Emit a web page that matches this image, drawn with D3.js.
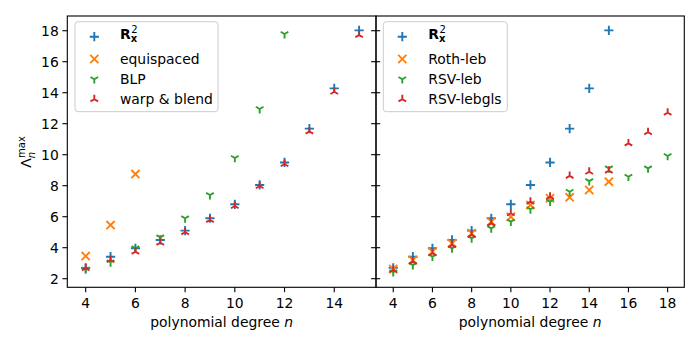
<!DOCTYPE html>
<meta charset="utf-8">
<style>
  body { margin: 0; background: #fff; }
  text { font-family: "DejaVu Sans", sans-serif; font-size: 13.9px; fill: #000; }
</style>
<svg width="700" height="350"></svg>
<script src="https://d3js.org/d3.v7.min.js"></script>
<script>

// degrees for each series
var degLeft  = d3.range(4, 16),   // 4..15
    degEqui  = [4, 5, 6],
    degBLP   = d3.range(4, 13),   // 4..12
    degRoth  = d3.range(4, 16),
    degRSV   = d3.range(4, 19);   // 4..18

// left panel values
var rx2      = [2.7, 3.42, 3.96, 4.5, 5.1, 5.9, 6.8, 8.05, 9.5, 11.68, 14.28, 18.02],
    equi     = [3.46, 5.46, 8.75],
    blp      = [2.6, 3.06, 3.96, 4.67, 5.9, 7.4, 9.79, 12.95, 17.79],
    warp     = [2.68, 3.2, 3.74, 4.32, 5.0, 5.79, 6.69, 7.98, 9.4, 11.5, 14.06, 17.72];

// right panel values
var rothLeb  = [2.62, 3.2, 3.74, 4.28, 4.93, 5.68, 6.0, 6.75, 7.19, 7.25, 7.72, 8.26],
    rsvLeb   = [2.42, 2.88, 3.42, 3.96, 4.6, 5.25, 5.68, 6.48, 6.97, 7.61, 8.3, 9.12, 8.58, 9.12, 9.92],
    rsvGls   = [2.56, 3.1, 3.64, 4.17, 4.82, 5.57, 6.22, 6.97, 7.29, 8.63, 8.9, 8.97, 10.73, 11.45, 12.71];

var yTicks      = [2, 4, 6, 8, 10, 12, 14, 16, 18],
    xTicksLeft  = [4, 6, 8, 10, 12, 14],
    xTicksRight = [4, 6, 8, 10, 12, 14, 16, 18];

var blue = "#1f77b4", orange = "#ff7f0e", green = "#2ca02c", red = "#d62728";

var svg = d3.select("svg");

var yTop = 16, yBottom = 287.3;

var y = d3.scaleLinear()
    .domain([1.445, 18.95])
    .range([yBottom, yTop]);

var panels = [
  {
    x0: 67.3, x1: 376, domain: [3.26, 15.68], ticks: xTicksLeft, yLabels: true,
    series: [
      {name: "rx", marker: "plus", color: blue, n: degLeft, v: rx2},
      {name: "equispaced", marker: "x", color: orange, n: degEqui, v: equi},
      {name: "BLP", marker: "tridown", color: green, n: degBLP, v: blp},
      {name: "warp & blend", marker: "triup", color: red, n: degLeft, v: warp}
    ],
    legend: {x0: 75, x1: 218, mx: 94.3, tx: 120}
  },
  {
    x0: 376, x1: 684.3, domain: [3.12, 18.85], ticks: xTicksRight, yLabels: false,
    series: [
      {name: "rx", marker: "plus", color: blue, n: degLeft, v: rx2},
      {name: "Roth-leb", marker: "x", color: orange, n: degRoth, v: rothLeb},
      {name: "RSV-leb", marker: "tridown", color: green, n: degRSV, v: rsvLeb},
      {name: "RSV-lebgls", marker: "triup", color: red, n: degRSV, v: rsvGls}
    ],
    legend: {x0: 383.3, x1: 507.3, mx: 402.3, tx: 428.3}
  }
];

function markerPath(type) {
  var p = d3.path(), r;
  if (type == "plus") {
    r = 4.6;
    p.moveTo(-r, 0); p.lineTo(r, 0);
    p.moveTo(0, -r); p.lineTo(0, r);
  } else if (type == "x") {
    r = 4.1;
    p.moveTo(-r, -r); p.lineTo(r, r);
    p.moveTo(-r, r); p.lineTo(r, -r);
  } else {
    r = 4.4;
    var s = type == "tridown" ? 1 : -1;
    p.moveTo(0, 0); p.lineTo(0, s * r);
    p.moveTo(0, 0); p.lineTo(-0.866 * r, -s * 0.5 * r);
    p.moveTo(0, 0); p.lineTo(0.866 * r, -s * 0.5 * r);
  }
  return p.toString();
}

function rxLabel(sel) {
  sel.append("tspan").attr("font-weight", "bold").text("R");
  sel.append("tspan").attr("font-weight", "bold").attr("dy", 3.5).attr("font-size", "10px").text("x");
  sel.append("tspan").attr("dx", -6).attr("dy", -9).attr("font-size", "10px").text("2");
}

panels.forEach(function(pl) {
  var x = d3.scaleLinear().domain(pl.domain).range([pl.x0, pl.x1]);
  var g = svg.append("g");

  // points
  pl.series.forEach(function(s) {
    var d = markerPath(s.marker);
    g.append("g").selectAll("path")
      .data(s.v)
      .join("path")
        .attr("transform", function(v, i) { return "translate(" + x(s.n[i]) + "," + y(v) + ")"; })
        .attr("d", d)
        .attr("fill", "none")
        .attr("stroke", s.color)
        .attr("stroke-width", 1.9);
  });

  // x axis
  var xa = g.append("g").attr("transform", "translate(0," + yBottom + ")");
  pl.ticks.forEach(function(t) {
    xa.append("line").attr("x1", x(t)).attr("x2", x(t)).attr("y1", 0).attr("y2", 4.9)
      .attr("stroke", "#000").attr("stroke-width", 1.1);
    xa.append("text").attr("x", x(t)).attr("y", 20.5).attr("text-anchor", "middle").text(t);
  });
  var xl = g.append("text")
      .attr("x", (pl.x0 + pl.x1) / 2)
      .attr("y", 327)
      .attr("text-anchor", "middle");
  xl.append("tspan").text("polynomial degree ");
  xl.append("tspan").attr("font-style", "italic").text("n");

  // y ticks
  yTicks.forEach(function(t) {
    g.append("line").attr("x1", pl.x0 - 4.9).attr("x2", pl.x0).attr("y1", y(t)).attr("y2", y(t))
      .attr("stroke", "#000").attr("stroke-width", 1.1);
    if (pl.yLabels) {
      g.append("text").attr("x", pl.x0 - 8.5).attr("y", y(t)).attr("dy", "0.36em")
        .attr("text-anchor", "end").text(t);
    } else {
      g.append("line").attr("x1", pl.x0).attr("x2", pl.x0 + 4.2).attr("y1", y(t)).attr("y2", y(t))
        .attr("stroke", "#000").attr("stroke-width", 1.1);
    }
  });

  // frame
  g.append("rect")
    .attr("x", pl.x0).attr("y", yTop)
    .attr("width", pl.x1 - pl.x0).attr("height", yBottom - yTop)
    .attr("fill", "none").attr("stroke", "#000").attr("stroke-width", 1.1);

  // legend
  var L = pl.legend, rows = [36.7, 59, 79.2, 99.2];
  var lg = g.append("g");
  lg.append("rect")
    .attr("x", L.x0).attr("y", 21.7)
    .attr("width", L.x1 - L.x0).attr("height", 90)
    .attr("rx", 3).attr("ry", 3)
    .attr("fill", "#fff").attr("fill-opacity", 0.8)
    .attr("stroke", "#cccccc").attr("stroke-width", 1);
  pl.series.forEach(function(s, i) {
    lg.append("path")
      .attr("transform", "translate(" + L.mx + "," + rows[i] + ")")
      .attr("d", markerPath(s.marker))
      .attr("fill", "none").attr("stroke", s.color).attr("stroke-width", 1.9);
    var t = lg.append("text").attr("x", L.tx).attr("y", rows[i] + (i == 0 ? 2 : 5));
    if (s.name == "rx") rxLabel(t);
    else t.text(s.name);
  });
});

// y label
var yl = svg.append("text")
    .attr("transform", "translate(31,152) rotate(-90)")
    .attr("text-anchor", "middle");
yl.append("tspan").text("Λ");
yl.append("tspan").attr("font-style", "italic").attr("font-size", "10px").attr("dy", 3.5).text("n");
yl.append("tspan").attr("font-size", "10px").attr("dx", -6).attr("dy", -10).text("max");

</script>
